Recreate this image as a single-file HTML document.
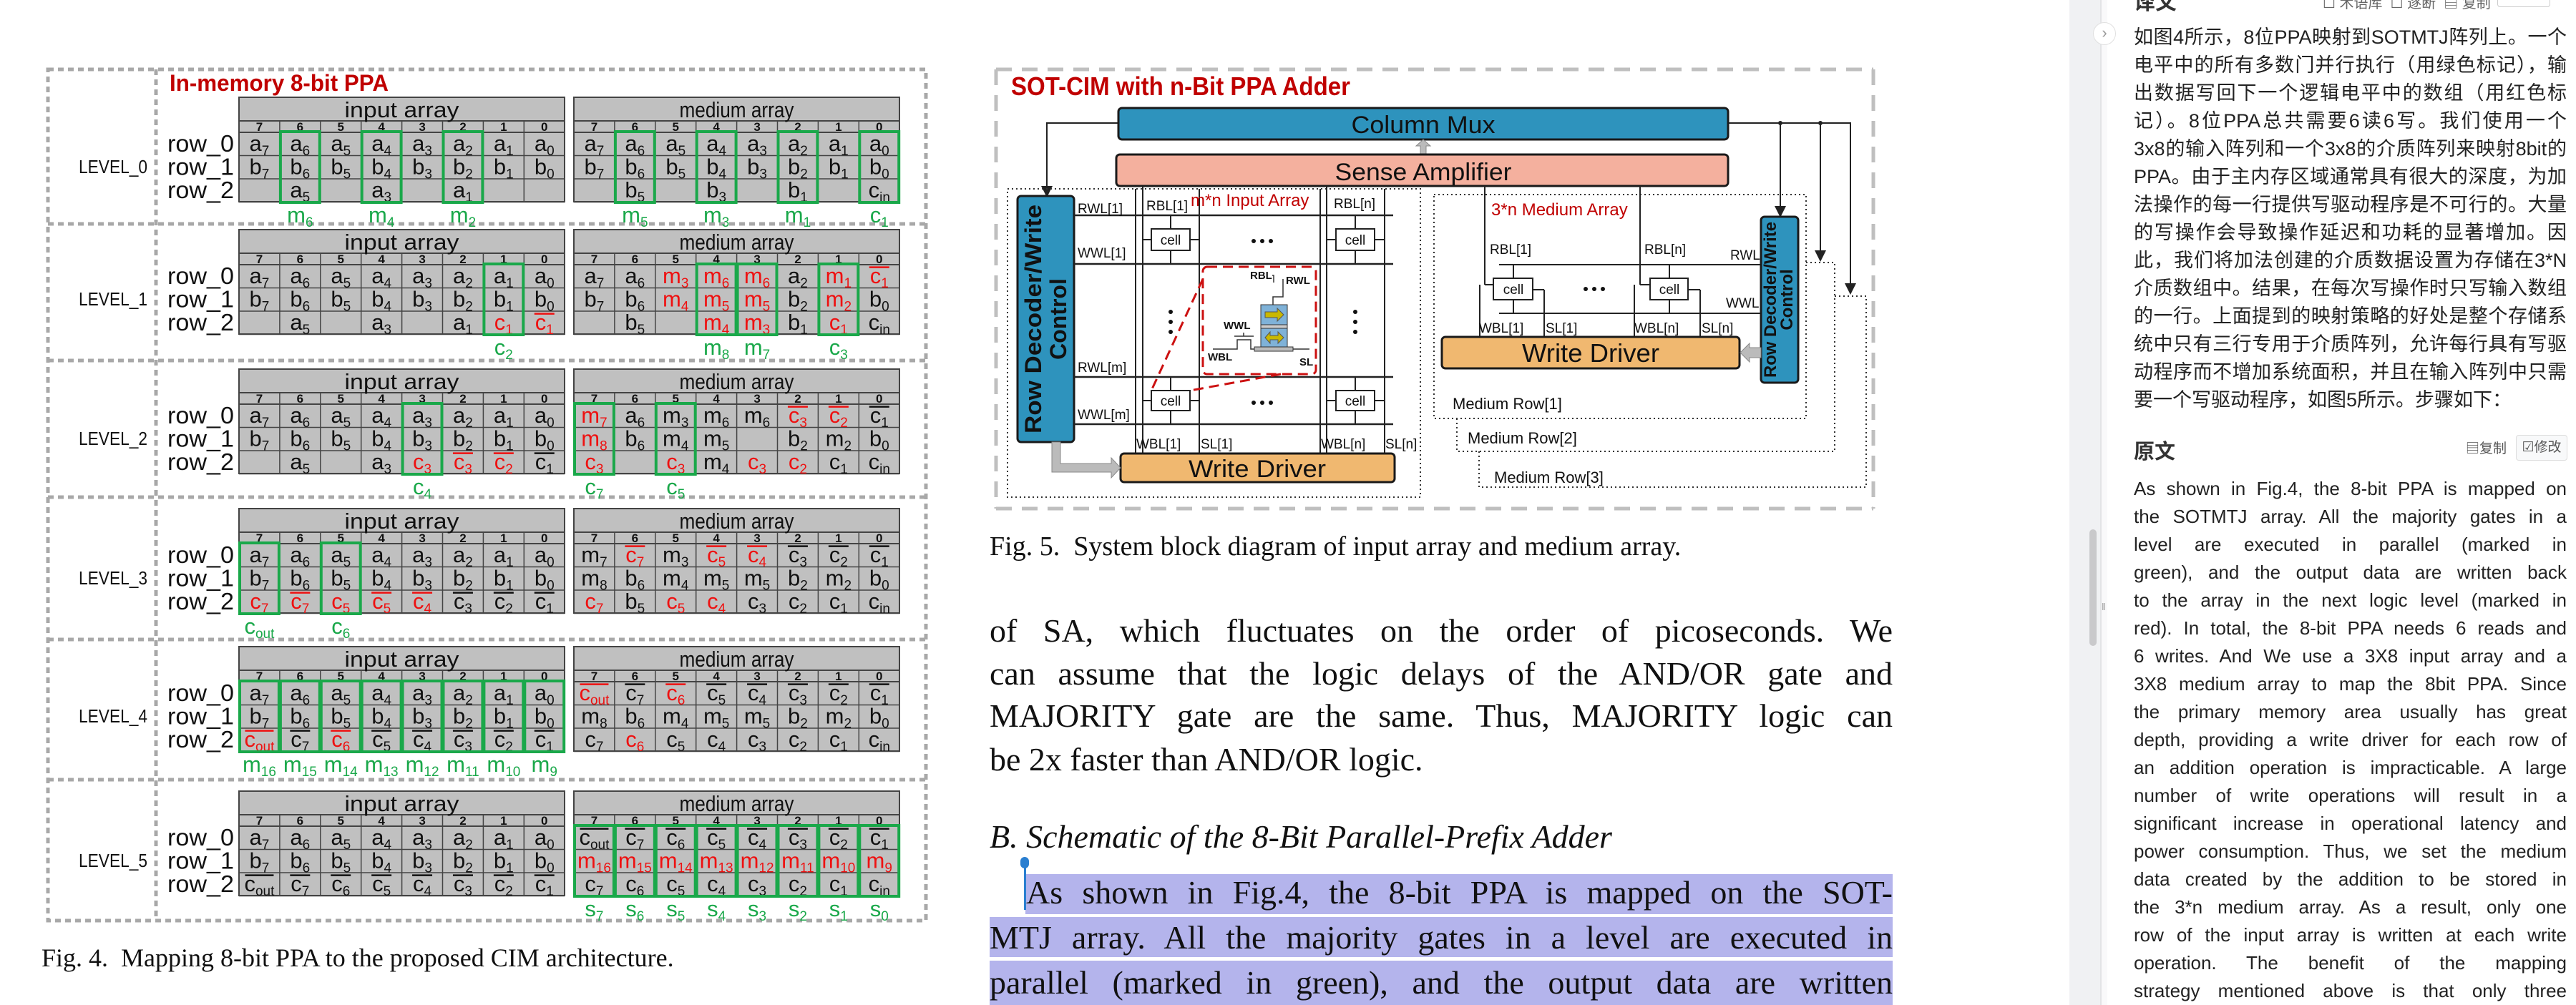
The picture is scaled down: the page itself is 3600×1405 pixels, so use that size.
<!DOCTYPE html>
<html><head><meta charset="utf-8">
<style>
html,body{margin:0;padding:0;background:#fff;}
body{width:3600px;height:1405px;position:relative;overflow:hidden;font-family:"Liberation Sans",sans-serif;}
.abs{position:absolute;white-space:nowrap;}
.jl{position:absolute;text-align:justify;text-align-last:justify;white-space:normal;}
.serif{font-family:"Liberation Serif",serif;color:#111;}
.cn{font-family:"Liberation Sans","Noto Sans CJK SC",sans-serif;color:#222;}
.en{font-family:"Liberation Sans",sans-serif;color:#222;}
svg text{font-family:"Liberation Sans Narrow","Liberation Sans",sans-serif;}
</style></head><body>

<!-- LEFT FIGURE -->
<svg id="fig4" style="position:absolute;left:0;top:0" width="1320" height="1405" viewBox="0 0 1320 1405"></svg>
<div class="abs serif" style="left:58px;top:1318px;font-size:36px;">Fig. 4.&nbsp; Mapping 8-bit PPA to the proposed CIM architecture.</div>

<!-- MIDDLE DIAGRAM -->
<svg id="fig5" style="position:absolute;left:0;top:0" width="2700" height="720" viewBox="0 0 2700 720">
<defs>
<marker id="ah" markerWidth="8" markerHeight="8" refX="6" refY="4" orient="auto"><path d="M0,0 L8,4 L0,8 z" fill="#222"/></marker>
</defs>
<g fill="none" stroke="#bfbfbf" stroke-width="5" stroke-dasharray="22 14">
<line x1="1392" y1="97" x2="2618" y2="97"/><line x1="1392" y1="711" x2="2618" y2="711"/>
<line x1="1392" y1="97" x2="1392" y2="711"/><line x1="2618" y1="97" x2="2618" y2="711"/>
</g>
<text x="1413" y="133" font-size="36" font-weight="bold" fill="#c00000" textLength="474" lengthAdjust="spacingAndGlyphs">SOT-CIM with n-Bit PPA Adder</text>
<!-- feed lines -->
<g stroke="#222" stroke-width="2" fill="none">
<polyline points="1563,172 1463,172 1463,272" marker-end="url(#ah)"/>
<polyline points="2415,172 2586,172 2586,408" marker-end="url(#ah)"/>
<line x1="2488" y1="172" x2="2488" y2="300" marker-end="url(#ah)"/>
<line x1="2544" y1="172" x2="2544" y2="362" marker-end="url(#ah)"/>
</g>
<circle cx="2488" cy="172" r="3" fill="#222"/><circle cx="2544" cy="172" r="3" fill="#222"/>
<rect x="1563" y="151" width="852" height="44" rx="5" fill="#2e93bd" stroke="#1a1a1a" stroke-width="3"/>
<text x="1989" y="186" font-size="34" text-anchor="middle" fill="#111" textLength="201" lengthAdjust="spacingAndGlyphs">Column Mux</text>
<polygon points="1985,215 1985,204 1979,204 1989,195 1999,204 1993,204 1993,215" fill="#bbb" stroke="#888"/>
<rect x="1560" y="216" width="855" height="44" rx="5" fill="#f4b09e" stroke="#1a1a1a" stroke-width="3"/>
<text x="1989" y="252" font-size="34" text-anchor="middle" fill="#111" textLength="247" lengthAdjust="spacingAndGlyphs">Sense Amplifier</text>
<!-- input array -->
<rect x="1408" y="264" width="577" height="431" fill="none" stroke="#333" stroke-width="2" stroke-dasharray="2 4"/>
<rect x="1422" y="274" width="79" height="344" rx="5" fill="#2e93bd" stroke="#1a1a1a" stroke-width="3"/>
<text transform="translate(1455,446) rotate(-90)" font-size="32" font-weight="bold" text-anchor="middle" fill="#111" font-family="DejaVu Sans,sans-serif" textLength="320" lengthAdjust="spacingAndGlyphs">Row Decoder/Write</text>
<text transform="translate(1490,446) rotate(-90)" font-size="32" font-weight="bold" text-anchor="middle" fill="#111" font-family="DejaVu Sans,sans-serif">Control</text>
<g stroke="#222" stroke-width="2.5">
<line x1="1501" y1="301" x2="1947" y2="301"/><line x1="1501" y1="369" x2="1947" y2="369"/>
<line x1="1501" y1="527" x2="1947" y2="527"/><line x1="1501" y1="593" x2="1947" y2="593"/>
</g>
<g stroke="#222" stroke-width="2">
<line x1="1587" y1="264" x2="1587" y2="634"/><line x1="1597" y1="260" x2="1597" y2="634"/><line x1="1676" y1="264" x2="1676" y2="634"/>
<line x1="1845" y1="264" x2="1845" y2="634"/><line x1="1854" y1="260" x2="1854" y2="634"/><line x1="1935" y1="264" x2="1935" y2="634"/>
<line x1="1636" y1="301" x2="1636" y2="369"/><line x1="1894" y1="301" x2="1894" y2="369"/>
<line x1="1636" y1="527" x2="1636" y2="593"/><line x1="1894" y1="527" x2="1894" y2="593"/>
<line x1="1597" y1="335" x2="1609" y2="335"/><line x1="1663" y1="335" x2="1676" y2="335"/>
<line x1="1854" y1="335" x2="1867" y2="335"/><line x1="1921" y1="335" x2="1935" y2="335"/>
<line x1="1597" y1="560" x2="1609" y2="560"/><line x1="1663" y1="560" x2="1676" y2="560"/>
<line x1="1854" y1="560" x2="1867" y2="560"/><line x1="1921" y1="560" x2="1935" y2="560"/>
</g>
<g fill="#fff" stroke="#222" stroke-width="2">
<rect x="1609" y="320" width="54" height="30"/>
<rect x="1867" y="320" width="54" height="30"/>
<rect x="1609" y="546" width="54" height="28"/>
<rect x="1867" y="546" width="54" height="28"/>
</g>
<g font-size="19" text-anchor="middle" fill="#111">
<text x="1636" y="342">cell</text><text x="1894" y="342">cell</text><text x="1636" y="567">cell</text><text x="1894" y="567">cell</text>
</g>
<g fill="#111">
<circle cx="1752" cy="337" r="3"/><circle cx="1764" cy="337" r="3"/><circle cx="1776" cy="337" r="3"/>
<circle cx="1752" cy="563" r="3"/><circle cx="1764" cy="563" r="3"/><circle cx="1776" cy="563" r="3"/>
<circle cx="1636" cy="436" r="3"/><circle cx="1636" cy="450" r="3"/><circle cx="1636" cy="464" r="3"/>
<circle cx="1894" cy="436" r="3"/><circle cx="1894" cy="450" r="3"/><circle cx="1894" cy="464" r="3"/>
</g>
<g font-size="19" fill="#111">
<text x="1506" y="298">RWL[1]</text><text x="1602" y="294">RBL[1]</text><text x="1864" y="291">RBL[n]</text>
<text x="1506" y="360">WWL[1]</text><text x="1506" y="520">RWL[m]</text><text x="1506" y="586">WWL[m]</text>
<text x="1588" y="627">WBL[1]</text><text x="1678" y="627">SL[1]</text><text x="1846" y="627">WBL[n]</text><text x="1936" y="627">SL[n]</text>
</g>
<text x="1664" y="288" font-size="24" fill="#c00000">m*n Input Array</text>
<!-- zoom box -->
<g stroke="#cc1111" stroke-width="3" stroke-dasharray="14 8" fill="none">
<rect x="1681" y="373" width="158" height="150" rx="6"/>
<line x1="1681" y1="390" x2="1609" y2="546"/><line x1="1790" y1="523" x2="1663" y2="546"/>
</g>
<g stroke="#333" stroke-width="1.5" fill="none">
<polyline points="1779,426 1779,415 1793,415 1793,390"/><polyline points="1780,395 1780,385 1778,385"/>
<polyline points="1695,488 1729,488 1729,475 1748,475 1748,488 1753,488"/><line x1="1725" y1="470" x2="1752" y2="470"/><line x1="1738" y1="465" x2="1738" y2="470"/>
<line x1="1807" y1="488" x2="1830" y2="488"/>
</g>
<rect x="1762" y="426" width="37" height="28" fill="#7fb2d8" stroke="#333"/>
<rect x="1762" y="454" width="37" height="5" fill="#ccc" stroke="#333"/>
<rect x="1762" y="459" width="37" height="26" fill="#7fb2d8" stroke="#333"/>
<rect x="1753" y="485" width="54" height="6" fill="#bbb" stroke="#333"/>
<polygon points="1768,436 1785,436 1785,431 1794,440 1785,449 1785,444 1768,444" fill="#c9b800" stroke="#555"/>
<polygon points="1768,472 1775,464 1775,469 1786,469 1786,464 1794,472 1786,480 1786,475 1775,475 1775,480" fill="#c9b800" stroke="#555"/>
<g font-size="15" font-weight="bold" fill="#111" font-family="Liberation Sans,sans-serif">
<text x="1747" y="390">RBL</text><text x="1797" y="397">RWL</text><text x="1710" y="460">WWL</text><text x="1688" y="504">WBL</text><text x="1816" y="511">SL</text>
</g>
<rect x="1566" y="634" width="383" height="40" rx="5" fill="#f0b870" stroke="#1a1a1a" stroke-width="3"/>
<text x="1757" y="667" font-size="34" text-anchor="middle" fill="#111" textLength="192" lengthAdjust="spacingAndGlyphs">Write Driver</text>
<polygon points="1470,618 1482,618 1482,648 1553,648 1553,640 1566,654 1553,668 1553,660 1470,660" fill="#bbb" stroke="#888"/>
<!-- medium array -->
<g fill="none" stroke="#333" stroke-width="2" stroke-dasharray="2 4">
<rect x="2004" y="272" width="520" height="313"/>
<polyline points="2524,367 2564,367 2564,631 2036,631 2036,585"/>
<polyline points="2564,414 2608,414 2608,681 2067,681 2067,631"/>
</g>
<text x="2084" y="301" font-size="24" fill="#c00000">3*n Medium Array</text>
<g font-size="22" fill="#111"><text x="2030" y="572">Medium Row[1]</text><text x="2051" y="620">Medium Row[2]</text><text x="2088" y="675">Medium Row[3]</text></g>
<g stroke="#222" stroke-width="2">
<line x1="2095" y1="370" x2="2461" y2="370"/><line x1="2095" y1="438" x2="2461" y2="438"/>
<line x1="2075" y1="260" x2="2075" y2="398"/><line x1="2292" y1="260" x2="2292" y2="398"/>
<line x1="2075" y1="398" x2="2087" y2="398"/><line x1="2292" y1="398" x2="2306" y2="398"/>
<line x1="2115" y1="370" x2="2115" y2="438"/><line x1="2333" y1="370" x2="2333" y2="438"/>
<line x1="2068" y1="398" x2="2068" y2="471"/><line x1="2158" y1="405" x2="2158" y2="471"/>
<line x1="2284" y1="398" x2="2284" y2="471"/><line x1="2376" y1="405" x2="2376" y2="471"/>
<line x1="2142" y1="405" x2="2158" y2="405"/><line x1="2359" y1="405" x2="2376" y2="405"/>
</g>
<g fill="#fff" stroke="#222" stroke-width="2">
<rect x="2087" y="389" width="55" height="30"/><rect x="2306" y="389" width="53" height="30"/>
</g>
<g font-size="19" text-anchor="middle" fill="#111"><text x="2115" y="411">cell</text><text x="2333" y="411">cell</text></g>
<g fill="#111"><circle cx="2216" cy="404" r="3"/><circle cx="2228" cy="404" r="3"/><circle cx="2240" cy="404" r="3"/></g>
<g font-size="19" fill="#111">
<text x="2082" y="355">RBL[1]</text><text x="2298" y="355">RBL[n]</text><text x="2418" y="363">RWL</text><text x="2412" y="430">WWL</text>
<text x="2067" y="465">WBL[1]</text><text x="2160" y="465">SL[1]</text><text x="2284" y="465">WBL[n]</text><text x="2378" y="465">SL[n]</text>
</g>
<rect x="2015" y="471" width="416" height="44" rx="5" fill="#f0b870" stroke="#1a1a1a" stroke-width="3"/>
<text x="2223" y="506" font-size="36" text-anchor="middle" fill="#111" textLength="192" lengthAdjust="spacingAndGlyphs">Write Driver</text>
<rect x="2461" y="303" width="52" height="232" rx="5" fill="#2e93bd" stroke="#1a1a1a" stroke-width="3"/>
<text transform="translate(2482,419) rotate(-90)" font-size="24" font-weight="bold" text-anchor="middle" fill="#111" font-family="DejaVu Sans,sans-serif" textLength="218" lengthAdjust="spacingAndGlyphs">Row Decoder/Write</text>
<text transform="translate(2505,419) rotate(-90)" font-size="24" font-weight="bold" text-anchor="middle" fill="#111" font-family="DejaVu Sans,sans-serif">Control</text>
<polygon points="2461,486 2445,486 2445,480 2432,493 2445,506 2445,500 2461,500" fill="#bbb" stroke="#888"/>
</svg>

<div class="abs serif" style="left:1383px;top:742px;font-size:38px;">Fig. 5.&nbsp; System block diagram of input array and medium array.</div>

<!-- middle body -->
<div>
<div class="jl serif" style="left:1383px;top:852px;width:1262px;font-size:46px;line-height:60px;">of SA, which fluctuates on the order of picoseconds. We</div>
<div class="jl serif" style="left:1383px;top:912px;width:1262px;font-size:46px;line-height:60px;">can assume that the logic delays of the AND/OR gate and</div>
<div class="jl serif" style="left:1383px;top:971px;width:1262px;font-size:46px;line-height:60px;">MAJORITY gate are the same. Thus, MAJORITY logic can</div>
<div class="abs serif" style="left:1383px;top:1032px;font-size:46px;line-height:60px;">be 2x faster than AND/OR logic.</div>
</div>
<div class="abs serif" style="left:1383px;top:1140px;font-size:46px;line-height:60px;font-style:italic;">B. Schematic of the 8-Bit Parallel-Prefix Adder</div>
<div>
<div class="abs" style="left:1433px;top:1222px;width:1212px;height:56px;background:#b4b4ec;"></div>
<div class="abs" style="left:1383px;top:1282px;width:1262px;height:56px;background:#b4b4ec;"></div>
<div class="abs" style="left:1383px;top:1343px;width:1262px;height:62px;background:#b4b4ec;"></div>
<div class="abs" style="left:1431px;top:1206px;width:3px;height:66px;background:#2a7fd0;"></div>
<div class="abs" style="left:1426px;top:1198px;width:12px;height:16px;border-radius:6px;background:#2a7fd0;"></div>
<div class="jl serif" style="left:1434px;top:1218px;width:1211px;font-size:46px;line-height:60px;">As shown in Fig.4, the 8-bit PPA is mapped on the SOT-</div>
<div class="jl serif" style="left:1383px;top:1281px;width:1262px;font-size:46px;line-height:60px;">MTJ array. All the majority gates in a level are executed in</div>
<div class="jl serif" style="left:1383px;top:1344px;width:1262px;font-size:46px;line-height:60px;">parallel (marked in green), and the output data are written</div>
</div>

<!-- RIGHT PANEL -->
<div class="abs" style="left:2892px;top:0;width:43px;height:1405px;background:#f0f1f3;"></div>
<div class="abs" style="left:2935px;top:0;width:2px;height:1405px;background:#e3e4e6;"></div>
<div class="abs" style="left:2937px;top:0;width:8px;height:1405px;background:#f9f9fa;"></div>
<div class="abs" style="left:2925px;top:31px;width:30px;height:30px;border-radius:16px;background:#fff;border:1px solid #e0e0e0;color:#999;font-size:22px;line-height:28px;text-align:center;">›</div>
<div class="abs" style="left:2920px;top:740px;width:10px;height:163px;border-radius:5px;background:#c9c9cb;"></div>
<div class="abs" style="left:2937px;top:840px;font-size:14px;color:#999;">‖</div>

<div class="abs cn" style="left:2982px;top:-22px;font-size:30px;font-weight:bold;color:#333;">译文</div>
<div class="abs cn" style="left:3246px;top:-12px;font-size:20px;color:#666;">☐ 术语库 &nbsp;☐ 逐断 &nbsp;▤ 复制</div>
<div class="abs" style="left:3490px;top:-10px;width:72px;height:18px;border:1px solid #ccc;border-radius:4px;"></div>

<div>
<div class="jl cn" style="left:2982px;top:33px;width:605px;font-size:27px;line-height:39px;">如图4所示，8位PPA映射到SOTMTJ阵列上。一个</div>
<div class="jl cn" style="left:2982px;top:72px;width:605px;font-size:27px;line-height:39px;">电平中的所有多数门并行执行（用绿色标记），输</div>
<div class="jl cn" style="left:2982px;top:111px;width:605px;font-size:27px;line-height:39px;">出数据写回下一个逻辑电平中的数组（用红色标</div>
<div class="jl cn" style="left:2982px;top:150px;width:605px;font-size:27px;line-height:39px;">记）。8位PPA总共需要6读6写。我们使用一个</div>
<div class="jl cn" style="left:2982px;top:189px;width:605px;font-size:27px;line-height:39px;">3x8的输入阵列和一个3x8的介质阵列来映射8bit的</div>
<div class="jl cn" style="left:2982px;top:228px;width:605px;font-size:27px;line-height:39px;">PPA。由于主内存区域通常具有很大的深度，为加</div>
<div class="jl cn" style="left:2982px;top:267px;width:605px;font-size:27px;line-height:39px;">法操作的每一行提供写驱动程序是不可行的。大量</div>
<div class="jl cn" style="left:2982px;top:306px;width:605px;font-size:27px;line-height:39px;">的写操作会导致操作延迟和功耗的显著增加。因</div>
<div class="jl cn" style="left:2982px;top:345px;width:605px;font-size:27px;line-height:39px;">此，我们将加法创建的介质数据设置为存储在3*N</div>
<div class="jl cn" style="left:2982px;top:384px;width:605px;font-size:27px;line-height:39px;">介质数组中。结果，在每次写操作时只写输入数组</div>
<div class="jl cn" style="left:2982px;top:423px;width:605px;font-size:27px;line-height:39px;">的一行。上面提到的映射策略的好处是整个存储系</div>
<div class="jl cn" style="left:2982px;top:462px;width:605px;font-size:27px;line-height:39px;">统中只有三行专用于介质阵列，允许每行具有写驱</div>
<div class="jl cn" style="left:2982px;top:501px;width:605px;font-size:27px;line-height:39px;">动程序而不增加系统面积，并且在输入阵列中只需</div>
<div class="abs cn" style="left:2982px;top:540px;font-size:27px;line-height:39px;">要一个写驱动程序，如图5所示。步骤如下：</div>
</div>

<div class="abs cn" style="left:2982px;top:608px;font-size:29px;font-weight:bold;color:#333;">原文</div>
<div class="abs cn" style="left:3446px;top:612px;font-size:19px;color:#555;">▤复制</div>
<div class="abs cn" style="left:3516px;top:608px;width:70px;height:34px;border:1px solid #ddd;border-radius:4px;background:#f8f9fa;font-size:19px;color:#555;line-height:34px;text-align:center;">☑修改</div>

<div>
<div class="jl en" style="left:2982px;top:664px;width:605px;font-size:26px;line-height:39px;">As shown in Fig.4, the 8-bit PPA is mapped on</div>
<div class="jl en" style="left:2982px;top:703px;width:605px;font-size:26px;line-height:39px;">the SOTMTJ array. All the majority gates in a</div>
<div class="jl en" style="left:2982px;top:742px;width:605px;font-size:26px;line-height:39px;">level are executed in parallel (marked in</div>
<div class="jl en" style="left:2982px;top:781px;width:605px;font-size:26px;line-height:39px;">green), and the output data are written back</div>
<div class="jl en" style="left:2982px;top:820px;width:605px;font-size:26px;line-height:39px;">to the array in the next logic level (marked in</div>
<div class="jl en" style="left:2982px;top:859px;width:605px;font-size:26px;line-height:39px;">red). In total, the 8-bit PPA needs 6 reads and</div>
<div class="jl en" style="left:2982px;top:898px;width:605px;font-size:26px;line-height:39px;">6 writes. And We use a 3X8 input array and a</div>
<div class="jl en" style="left:2982px;top:937px;width:605px;font-size:26px;line-height:39px;">3X8 medium array to map the 8bit PPA. Since</div>
<div class="jl en" style="left:2982px;top:976px;width:605px;font-size:26px;line-height:39px;">the primary memory area usually has great</div>
<div class="jl en" style="left:2982px;top:1015px;width:605px;font-size:26px;line-height:39px;">depth, providing a write driver for each row of</div>
<div class="jl en" style="left:2982px;top:1054px;width:605px;font-size:26px;line-height:39px;">an addition operation is impracticable. A large</div>
<div class="jl en" style="left:2982px;top:1093px;width:605px;font-size:26px;line-height:39px;">number of write operations will result in a</div>
<div class="jl en" style="left:2982px;top:1132px;width:605px;font-size:26px;line-height:39px;">significant increase in operational latency and</div>
<div class="jl en" style="left:2982px;top:1171px;width:605px;font-size:26px;line-height:39px;">power consumption. Thus, we set the medium</div>
<div class="jl en" style="left:2982px;top:1210px;width:605px;font-size:26px;line-height:39px;">data created by the addition to be stored in</div>
<div class="jl en" style="left:2982px;top:1249px;width:605px;font-size:26px;line-height:39px;">the 3*n medium array. As a result, only one</div>
<div class="jl en" style="left:2982px;top:1288px;width:605px;font-size:26px;line-height:39px;">row of the input array is written at each write</div>
<div class="jl en" style="left:2982px;top:1327px;width:605px;font-size:26px;line-height:39px;">operation. The benefit of the mapping</div>
<div class="jl en" style="left:2982px;top:1366px;width:605px;font-size:26px;line-height:39px;">strategy mentioned above is that only three</div>
</div>

<script>
// ---- data for Fig.4 ----
const levelNames = ["LEVEL_0","LEVEL_1","LEVEL_2","LEVEL_3","LEVEL_4","LEVEL_5"];
const colIndex = ["7","6","5","4","3","2","1","0"];
const rowA = ["a_7","a_6","a_5","a_4","a_3","a_2","a_1","a_0"];
const rowB = ["b_7","b_6","b_5","b_4","b_3","b_2","b_1","b_0"];
const inputRow2 = [
 ["","a_5","","a_3","","a_1","",""],
 ["","a_5","","a_3","","a_1","Rc_1","R!c_1"],
 ["","a_5","","a_3","Rc_3","R!c_3","R!c_2","!c_1"],
 ["Rc_7","R!c_7","Rc_5","R!c_5","R!c_4","!c_3","!c_2","!c_1"],
 ["R!c_out","!c_7","R!c_6","!c_5","!c_4","!c_3","!c_2","!c_1"],
 ["!c_out","!c_7","!c_6","!c_5","!c_4","!c_3","!c_2","!c_1"]
];
const mediumRow0 = [
 ["a_7","a_6","a_5","a_4","a_3","a_2","a_1","a_0"],
 ["a_7","a_6","Rm_3","Rm_6","Rm_6","a_2","Rm_1","R!c_1"],
 ["Rm_7","a_6","m_3","m_6","m_6","R!c_3","R!c_2","!c_1"],
 ["m_7","R!c_7","m_3","R!c_5","R!c_4","!c_3","!c_2","!c_1"],
 ["R!c_out","!c_7","R!c_6","!c_5","!c_4","!c_3","!c_2","!c_1"],
 ["!c_out","!c_7","!c_6","!c_5","!c_4","!c_3","!c_2","!c_1"]
];
const mediumRow1 = [
 ["b_7","b_6","b_5","b_4","b_3","b_2","b_1","b_0"],
 ["b_7","b_6","Rm_4","Rm_5","Rm_5","b_2","Rm_2","b_0"],
 ["Rm_8","b_6","m_4","m_5","","b_2","m_2","b_0"],
 ["m_8","b_6","m_4","m_5","m_5","b_2","m_2","b_0"],
 ["m_8","b_6","m_4","m_5","m_5","b_2","m_2","b_0"],
 ["Rm_16","Rm_15","Rm_14","Rm_13","Rm_12","Rm_11","Rm_10","Rm_9"]
];
const mediumRow2 = [
 ["","b_5","","b_3","","b_1","","c_in"],
 ["","b_5","","Rm_4","Rm_3","b_1","Rc_1","c_in"],
 ["Rc_3","","Rc_3","m_4","Rc_3","Rc_2","c_1","c_in"],
 ["Rc_7","b_5","Rc_5","Rc_4","c_3","c_2","c_1","c_in"],
 ["c_7","Rc_6","c_5","c_4","c_3","c_2","c_1","c_in"],
 ["c_7","c_6","c_5","c_4","c_3","c_2","c_1","c_in"]
];
const greenIn = [[1,3,5],[6],[4],[0,2],[0,1,2,3,4,5,6,7],[]];
const labelsIn = [["m_6","m_4","m_2"],["c_2"],["c_4"],["c_out","c_6"],["m_16","m_15","m_14","m_13","m_12","m_11","m_10","m_9"],[]];
const greenMed = [[1,3,5,7],[3,4,6],[0,2],[],[],[0,1,2,3,4,5,6,7]];
const labelsMed = [["m_5","m_3","m_1","c_1"],["m_8","m_7","c_3"],["c_7","c_5"],[],[],["s_7","s_6","s_5","s_4","s_3","s_2","s_1","s_0"]];

// ---- layout ----
const svg = document.getElementById('fig4');
const NS = 'http://www.w3.org/2000/svg';
const levelTop = [136,321,516,711,904,1106];
const sepY = [313,504,695,894,1090];
const inX = 334, medX = 802, cellW = 56.9, tblW = 455;
const GREEN = '#1aa84a', RED = '#ee1111';
function mk(tag, attrs, parent){const e=document.createElementNS(NS,tag);for(const k in attrs)e.setAttribute(k,attrs[k]);(parent||svg).appendChild(e);return e;}

// frame
const fr = mk('g',{fill:'none',stroke:'#a8a8a8','stroke-width':5,'stroke-dasharray':'8 6'});


mk('rect',{x:67,y:97,width:1227,height:1190},fr);
mk('line',{x1:218,y1:97,x2:218,y2:1287},fr);
sepY.forEach(y=>mk('line',{x1:67,y1:y,x2:1294,y2:y},fr));
const ttl = mk('text',{x:237,y:127,'font-size':32,'font-weight':'bold',fill:'#c00000',textLength:306,lengthAdjust:'spacingAndGlyphs'});
ttl.textContent='In-memory 8-bit PPA';



function drawToken(tok, cx, base, size, colorDefault, parent){
  if(!tok) return;
  let red=false, over=false, t=tok;
  if(t[0]==='R'){red=true;t=t.slice(1);}
  if(t[0]==='!'){over=true;t=t.slice(1);}
  const parts=t.split('_');
  const col = red?RED:colorDefault;
  const tx = mk('text',{x:cx,y:base,'text-anchor':'middle','font-size':size,fill:col},parent);
  const s1=document.createElementNS(NS,'tspan');s1.textContent=parts[0];tx.appendChild(s1);
  if(parts[1]){const s2=document.createElementNS(NS,'tspan');s2.setAttribute('font-size',Math.round(size*0.62));s2.setAttribute('dy',size*0.2);s2.textContent=parts[1];tx.appendChild(s2);}
  if(over){const hw = parts[1] && parts[1].length>1 ? 20 : 14;
    mk('line',{x1:cx-hw,y1:base-size*0.72,x2:cx+hw,y2:base-size*0.72,stroke:col,'stroke-width':2.5},parent);}
}

function drawTable(x0, T, title, rows, greens, labels, lv, kind){
  const g = mk('g',{});
  
  
  mk('rect',{x:x0,y:T,width:tblW,height:146,fill:'#c0c0c0',stroke:'#444','stroke-width':2},g);
  mk('line',{x1:x0,y1:T+33,x2:x0+tblW,y2:T+33,stroke:'#444','stroke-width':2},g);
  const ht = mk('text',{x:x0+tblW/2,y:T+28,'text-anchor':'middle','font-size':31,fill:'#111',textLength:160,lengthAdjust:'spacingAndGlyphs'},g);
  ht.textContent=title;
  for(let r=0;r<=3;r++){const y=T+49+r*32.5;mk('line',{x1:x0,y1:y,x2:x0+tblW,y2:y,stroke:'#444','stroke-width':r===0?2:1.5},g);}
  for(let c=1;c<8;c++){const x=x0+c*cellW;mk('line',{x1:x,y1:T+33,x2:x,y2:T+146,stroke:'#444','stroke-width':1.5},g);}
  colIndex.forEach((s,c)=>{const t=mk('text',{x:x0+(c+.5)*cellW,y:T+47,'text-anchor':'middle','font-size':17,'font-weight':'bold',fill:'#111'},g);t.textContent=s;});
  rows.forEach((row,r)=>row.forEach((tok,c)=>drawToken(tok,x0+(c+.5)*cellW,T+49+r*32.5+26,31,'#111',g)));
  greens.forEach((c,i)=>{
    const b = mk('rect',{x:x0+c*cellW+1,y:T+48,width:cellW-2,height:99,fill:'none',stroke:GREEN,'stroke-width':4},g);
    
    
    if(labels[i]) drawToken(labels[i], x0+(c+.5)*cellW, T+175, 31, GREEN, g);
  });
}

levelTop.forEach((T,lv)=>{
  const ln = mk('text',{x:110,y:T+106,'font-size':26,fill:'#111',textLength:96,lengthAdjust:'spacingAndGlyphs'});
  ln.textContent=levelNames[lv];
  
  
  ['row_0','row_1','row_2'].forEach((s,r)=>{
    const t=mk('text',{x:234,y:T+49+r*32.5+27,'font-size':33,fill:'#111',textLength:93,lengthAdjust:'spacingAndGlyphs'});
    t.textContent=s;
    
    
  });
  drawTable(inX, T, 'input array', [rowA,rowB,inputRow2[lv]], greenIn[lv], labelsIn[lv], lv, 'input');
  drawTable(medX, T, 'medium array', [mediumRow0[lv],mediumRow1[lv],mediumRow2[lv]], greenMed[lv], labelsMed[lv], lv, 'medium');
});
</script>
</body></html>
